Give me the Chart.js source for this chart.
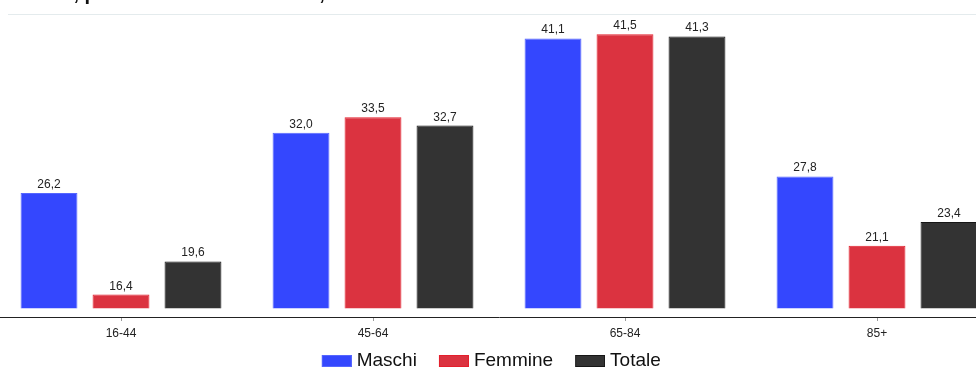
<!DOCTYPE html>
<html lang="it">
<head>
<meta charset="utf-8">
<title>Classi di età per sesso</title>
<script src="https://cdn.jsdelivr.net/npm/chart.js@4/dist/chart.umd.min.js"></script>
<style>
  html, body { margin: 0; padding: 0; background: #fff; overflow: hidden; width: 976px; height: 371px; }
  #rule { position: absolute; left: 8px; top: 14px; width: 968px; height: 1px; background: #e4ebed; }
  #chart { position: absolute; left: -32px; top: 0; }
</style>
</head>
<body>
<div id="rule"></div>
<canvas id="chart" width="1035" height="371"></canvas>
<script>
// Age classes and values (%) by sex
const categories = ['16-44', '45-64', '65-84', '85+'];
const maschi  = [26.2, 32.0, 41.1, 27.8];
const femmine = [16.4, 33.5, 41.5, 21.1];
const totale  = [19.6, 32.7, 41.3, 23.4];
const seriesNames = ['Maschi', 'Femmine', 'Totale'];

// Value axis window and the level bars rise from
const yMin = 14.24;
const yMax = 43.46;
const barBase = 15.05;

const FONT = "'Liberation Sans', Arial, Helvetica, sans-serif";
const fills   = ['#3447fe', '#db3340', '#333333'];
const borders = ['#5566ff', '#e41f2c', '#161616'];

const fmt = v => v.toFixed(1).replace('.', ',');

// Legend swatch: a 30x12 box sitting at the right end of a wider transparent image
function swatch(fill, border) {
  const c = document.createElement('canvas');
  c.width = 46; c.height = 12;
  const g = c.getContext('2d');
  g.fillStyle = fill;
  g.fillRect(16, 0, 30, 12);
  g.strokeStyle = border;
  g.lineWidth = 1;
  g.strokeRect(16.5, 0.5, 29, 11);
  return c;
}
const swatches = fills.map((f, i) => swatch(f, borders[i]));

// Writes each bar's value above it
const valueLabels = {
  id: 'valueLabels',
  afterDatasetsDraw(chart) {
    const ctx = chart.ctx;
    ctx.save();
    ctx.font = '12px ' + FONT;
    ctx.fillStyle = '#222';
    ctx.textAlign = 'center';
    ctx.textBaseline = 'alphabetic';
    chart.data.datasets.forEach((ds, i) => {
      const meta = chart.getDatasetMeta(i);
      meta.data.forEach((bar, j) => {
        ctx.fillText(fmt(ds.data[j]), bar.x, bar.y - 5);
      });
    });
    ctx.restore();
  }
};

// Heading line at the very top edge
const heading = {
  id: 'heading',
  afterDraw(chart) {
    const ctx = chart.ctx;
    const first = 'Prevalenza';
    const rest = ', per classe di età e sesso, anni 2019-2021';
    ctx.save();
    ctx.font = 'bold 20px ' + FONT;
    ctx.fillStyle = '#111';
    ctx.textBaseline = 'alphabetic';
    ctx.textAlign = 'left';
    const x0 = 32 + 73.5 - ctx.measureText(first).width;
    ctx.fillText(first + rest, x0, 0);
    ctx.restore();
  }
};

new Chart(document.getElementById('chart'), {
  type: 'bar',
  data: {
    labels: categories,
    datasets: [
      { label: seriesNames[0], data: maschi,  backgroundColor: fills[0], borderColor: borders[0], borderWidth: 1, base: barBase },
      { label: seriesNames[1], data: femmine, backgroundColor: fills[1], borderColor: borders[1], borderWidth: 1, base: barBase },
      { label: seriesNames[2], data: totale,  backgroundColor: fills[2], borderColor: borders[2], borderWidth: 1, base: barBase }
    ]
  },
  options: {
    responsive: false,
    animation: false,
    devicePixelRatio: 1,
    categoryPercentage: 0.857,
    barPercentage: 0.79,
    layout: { padding: { top: 14, left: 0, right: 0, bottom: 0 } },
    scales: {
      x: {
        offset: true,
        grid: { display: true, drawOnChartArea: false, drawTicks: true, tickLength: 4, offset: false, color: '#9a9a9a' },
        border: { display: true, color: '#222', width: 1 },
        ticks: { font: { family: FONT, size: 12 }, color: '#222', padding: 5, maxRotation: 0 },
        afterFit(s) { s.height = 24; }
      },
      y: {
        min: yMin,
        max: yMax,
        grid: { display: false },
        border: { display: false },
        ticks: { display: false },
        afterFit(s) { s.width = 27; }
      }
    },
    plugins: {
      legend: {
        position: 'bottom',
        maxHeight: 30,
        labels: {
          font: { family: FONT, size: 19 },
          color: '#111',
          usePointStyle: true,
          pointStyleWidth: 37,
          boxHeight: 12,
          padding: 10.5,
          generateLabels(chart) {
            const items = Chart.defaults.plugins.legend.labels.generateLabels(chart);
            items.forEach(it => { it.pointStyle = swatches[it.datasetIndex]; });
            return items;
          }
        }
      },
      tooltip: { enabled: false },
      title: { display: false }
    }
  },
  plugins: [valueLabels, heading]
});
</script>
</body>
</html>
